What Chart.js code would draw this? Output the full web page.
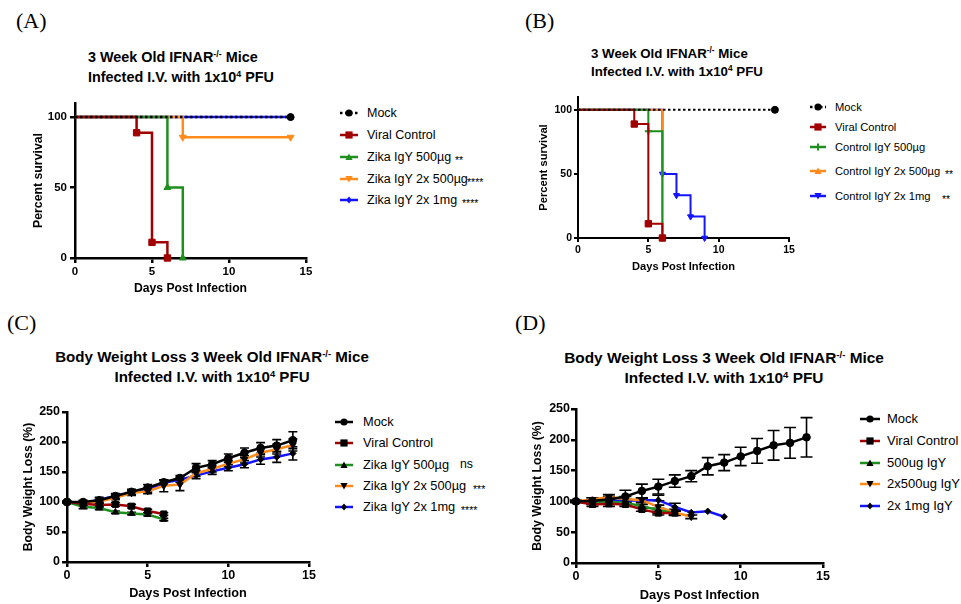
<!DOCTYPE html>
<html>
<head>
<meta charset="utf-8">
<script src="https://cdn.jsdelivr.net/npm/chart.js@4.4.1/dist/chart.umd.min.js"></script>
<style>
  body { margin: 0; background: #fff; }
  #fig { position: relative; width: 961px; height: 604px; overflow: hidden; color: #000;
         font-family: "Liberation Sans", Arial, Helvetica, sans-serif; }
  .plabel { position: absolute; font-family: "Liberation Serif", "Times New Roman", serif; font-size: 22px; line-height: 26px; }
  .title { position: absolute; font-weight: bold; white-space: nowrap; }
  .title sup { font-size: 62%; line-height: 0; vertical-align: 0.55em; }
  canvas { position: absolute; }
  .lg-mark { position: absolute; }
  .lg-text { position: absolute; white-space: nowrap; line-height: 20px; }
  .lg-sig { position: absolute; white-space: nowrap; line-height: 20px; }
</style>
</head>
<body>
<div id="fig">
  <div class="plabel" style="left:16px;top:8px">(A)</div>
  <div class="plabel" style="left:525px;top:8px">(B)</div>
  <div class="plabel" style="left:7px;top:310px">(C)</div>
  <div class="plabel" style="left:515px;top:310px">(D)</div>

  <div class="title" style="left:88px;top:47px;font-size:14.4px;line-height:20px">3 Week Old IFNAR<sup>-/-</sup> Mice<br>Infected I.V. with 1x10<sup>4</sup> PFU</div>
  <div class="title" style="left:591px;top:45px;font-size:13.3px;line-height:18px">3 Week Old IFNAR<sup>-/-</sup> Mice<br>Infected I.V. with 1x10<sup>4</sup> PFU</div>
  <div class="title" style="left:12px;width:400px;text-align:center;top:347px;font-size:15.1px;line-height:20px">Body Weight Loss 3 Week Old IFNAR<sup>-/-</sup> Mice<br>Infected I.V. with 1x10<sup>4</sup> PFU</div>
  <div class="title" style="left:524px;width:400px;text-align:center;top:348px;font-size:15.4px;line-height:20px">Body Weight Loss 3 Week Old IFNAR<sup>-/-</sup> Mice<br>Infected I.V. with 1x10<sup>4</sup> PFU</div>

  <canvas id="chartA" width="306" height="203" style="left:20px;top:93px"></canvas>
  <canvas id="chartB" width="281" height="187" style="left:528px;top:87px"></canvas>
  <canvas id="chartC" width="319" height="199" style="left:10px;top:402px"></canvas>
  <canvas id="chartD" width="323" height="204" style="left:520px;top:399px"></canvas>
</div>

<script>
// ---- data ----
const DAY_TICKS = [0, 5, 10, 15];
const SURV_TICKS = [0, 50, 100];
const WEIGHT_TICKS = [0, 50, 100, 150, 200, 250];

// (A) survival, Zika IgY
const A_LABELS = ['Mock', 'Viral Control', 'Zika IgY 500µg', 'Zika IgY 2x 500µg', 'Zika IgY 2x 1mg'];
const A_SIG = ['', '', '**', '****', '****'];
const A_MOCK_DAYS = [0, 14],        A_MOCK = [100, 100];
const A_VIRAL_DAYS = [0, 4, 5, 6],  A_VIRAL = [100, 88.9, 11.1, 0];
const A_Z500_DAYS = [0, 6, 7],      A_Z500 = [100, 50, 0];
const A_Z2X500_DAYS = [0, 7, 14],   A_Z2X500 = [100, 85.7, 85.7];
const A_Z2X1MG_DAYS = [0, 14],      A_Z2X1MG = [100, 100];

// (B) survival, control IgY
const B_LABELS = ['Mock', 'Viral Control', 'Control IgY 500µg', 'Control IgY 2x 500µg', 'Control IgY 2x 1mg'];
const B_SIG = ['', '', '', '**', '**'];
const B_MOCK_DAYS = [0, 14],          B_MOCK = [100, 100];
const B_VIRAL_DAYS = [0, 4, 5, 6],    B_VIRAL = [100, 88.9, 11.1, 0];
const B_C500_DAYS = [0, 5, 6],        B_C500 = [100, 83.3, 0];
const B_C2X500_DAYS = [0, 6],         B_C2X500 = [100, 0];
const B_C2X1MG_DAYS = [0, 6, 7, 8, 9], B_C2X1MG = [100, 50, 33.3, 16.7, 0];

// (C) body weight, Zika IgY
const WEIGHT_DAYS = [0, 1, 2, 3, 4, 5, 6, 7, 8, 9, 10, 11, 12, 13, 14];
const C_LABELS = ['Mock', 'Viral Control', 'Zika IgY 500µg', 'Zika IgY 2x 500µg', 'Zika IgY 2x 1mg'];
const C_SIG = ['', '', 'ns', '***', '****'];
const C_MOCK = [100, 100, 103, 110, 117, 124, 133, 140, 157, 163, 173, 182, 190, 194, 203];
const C_MOCK_ERR = [1, 3, 5, 4, 4, 5, 4, 4, 7, 6, 7, 8, 9, 10, 14];
const C_VIRAL = [100, 97, 95, 96, 93, 85, 80];
const C_VIRAL_ERR = [1, 3, 4, 3, 3, 3, 2];
const C_Z500 = [100, 92, 90, 83, 81, 79, 71];
const C_Z500_ERR = [1, 3, 3, 2, 2, 2, 2];
const C_Z2X500 = [100, 99, 101, 107, 115, 118, 127, 129, 148, 155, 164, 171, 182, 188, 195];
const C_Z2X500_ERR = [1, 3, 3, 3, 4, 4, 10, 10, 5, 5, 5, 6, 7, 8, 10];
const C_Z2X1MG = [100, 98, 104, 110, 116, 120, 132, 137, 144, 151, 157, 163, 171, 175, 181];
const C_Z2X1MG_ERR = [1, 3, 3, 3, 4, 4, 4, 4, 5, 5, 5, 6, 8, 9, 11];

// (D) body weight, control IgY
const D_LABELS = ['Mock', 'Viral Control', '500ug IgY', '2x500ug IgY', '2x 1mg IgY'];
const D_SIG = ['', '', '', '', ''];
const D_MOCK = [100, 101, 103, 108, 117, 124, 133, 141, 157, 163, 173, 182, 191, 195, 204];
const D_MOCK_ERR = [2, 5, 5, 10, 11, 12, 10, 9, 14, 13, 15, 20, 24, 25, 32];
const D_VIRAL = [100, 95, 96, 95, 87, 81, 81];
const D_VIRAL_ERR = [1, 3, 4, 3, 3, 3, 3];
const D_500 = [100, 98, 99, 98, 92, 86, 81];
const D_500_ERR = [1, 3, 3, 3, 3, 3, 3];
const D_2X500 = [100, 103, 107, 104, 102, 91, 82, 75];
const D_2X500_ERR = [1, 3, 4, 4, 4, 10, 5, 3];
const D_2X1MG = [100, 99, 101, 101, 102, 102, 91, 82, 84, 75];
const D_2X1MG_ERR = [1, 3, 4, 3, 3, 8, 6, 0, 0, 0];

// ---- styles ----
const FONT = '"Liberation Sans", Arial, Helvetica, sans-serif';
const BLACK = '#000000', RED = '#a00000', GREEN = '#1f8f1f', ORANGE = '#ff8c1a', BLUE = '#1414ff';

// shape name -> chart.js point style
const SHAPES = {
  circle: { pointStyle: 'circle', rot: 0 },
  square: { pointStyle: 'rect', rot: 0 },
  tri: { pointStyle: 'triangle', rot: 0 },
  triDown: { pointStyle: 'triangle', rot: 180 },
  diamond: { pointStyle: 'rectRot', rot: 0 },
  plus: { pointStyle: 'cross', rot: 0 }
};

function makeSet(label, days, vals, color, shape, opts) {
  const o = opts || {};
  const r = o.r || 4;
  const pc = o.pointColor || color;
  return {
    label: label,
    data: days.map((d, i) => ({ x: d, y: vals[i] })),
    borderColor: color,
    backgroundColor: pc,
    pointBackgroundColor: pc,
    pointBorderColor: pc,
    pointBorderWidth: shape === 'plus' ? 2 : 1,
    pointStyle: SHAPES[shape].pointStyle,
    pointRotation: SHAPES[shape].rot,
    pointRadius: o.skipFirst ? (ctx => ctx.dataIndex === 0 ? 0 : r) : r,
    borderWidth: o.lw || 2.5,
    borderDash: o.dotted ? [2.5, 2.5] : [],
    stepped: !!o.stepped,
    tension: 0,
    clip: false,
    errors: o.errors || null
  };
}

// draws error bars through the chart scales
const errorBars = {
  id: 'errorBars',
  beforeDatasetsDraw(chart, args, opts) {
    const { ctx, scales: { x, y } } = chart;
    const cap = opts.cap || 4;
    ctx.save();
    ctx.strokeStyle = '#000';
    ctx.lineWidth = 1.6;
    chart.data.datasets.forEach(ds => {
      if (!ds.errors) return;
      ds.data.forEach((p, i) => {
        const e = ds.errors[i];
        if (!e) return;
        const px = x.getPixelForValue(p.x);
        const top = y.getPixelForValue(p.y + e);
        const bot = y.getPixelForValue(p.y - e);
        ctx.beginPath();
        ctx.moveTo(px, top); ctx.lineTo(px, bot);
        ctx.moveTo(px - cap, top); ctx.lineTo(px + cap, top);
        ctx.moveTo(px - cap, bot); ctx.lineTo(px + cap, bot);
        ctx.stroke();
      });
    });
    ctx.restore();
  }
};

function buildChart(id, p) {
  const ctx = document.getElementById(id).getContext('2d');
  const axisGrid = { drawOnChartArea: false, drawTicks: true, tickLength: p.tickLen, color: '#000', lineWidth: p.axisW };
  const axisBorder = { display: true, color: '#000', width: p.axisW };
  return new Chart(ctx, {
    type: 'line',
    data: { datasets: p.datasets },
    plugins: [errorBars],
    options: {
      responsive: false,
      animation: false,
      layout: { padding: { top: 10, right: 20, bottom: 0, left: 0 } },
      plugins: {
        legend: { display: false },
        tooltip: { enabled: false },
        errorBars: { cap: p.cap }
      },
      scales: {
        x: {
          type: 'linear', min: 0, max: 15,
          afterBuildTicks: s => { s.ticks = DAY_TICKS.map(v => ({ value: v })); },
          afterFit: s => { s.height = p.xAxisH; },
          grid: axisGrid,
          border: axisBorder,
          ticks: { color: '#000', autoSkip: false, maxRotation: 0, padding: p.xTickPad,
                   font: { family: FONT, size: p.tickFont, weight: 'bold' } },
          title: { display: true, text: 'Days Post Infection', color: '#000', padding: { top: 0, bottom: 0 },
                   font: { family: FONT, size: p.xTitleFont, weight: 'bold' } }
        },
        y: {
          type: 'linear', min: 0, max: p.yMax,
          afterBuildTicks: s => { s.ticks = p.yTicks.map(v => ({ value: v })); },
          afterFit: s => { s.width = p.yAxisW; },
          grid: axisGrid,
          border: axisBorder,
          ticks: { color: '#000', padding: p.yTickPad,
                   font: { family: FONT, size: p.tickFont, weight: 'bold' } },
          title: { display: true, text: p.yTitle, color: '#000', padding: { top: p.yTitlePad, bottom: 0 },
                   font: { family: FONT, size: p.yTitleFont, weight: 'bold' } }
        }
      }
    }
  });
}

// ---- legends (html) ----
function markSvg(w, color, markColor, shape, dotted) {
  const h = 14, cy = 7, cx = w / 2;
  const dash = dotted ? ' stroke-dasharray="2.5 2.5"' : '';
  const mc = markColor;
  let m = '';
  const s = 3.6;
  if (shape === 'circle') m = `<circle cx="${cx}" cy="${cy}" r="${s}" fill="${mc}"/>`;
  else if (shape === 'square') m = `<rect x="${cx - s}" y="${cy - s}" width="${2 * s}" height="${2 * s}" fill="${mc}"/>`;
  else if (shape === 'tri') m = `<polygon points="${cx},${cy - s} ${cx - s},${cy + s * 0.8} ${cx + s},${cy + s * 0.8}" fill="${mc}"/>`;
  else if (shape === 'triDown') m = `<polygon points="${cx},${cy + s} ${cx - s},${cy - s * 0.8} ${cx + s},${cy - s * 0.8}" fill="${mc}"/>`;
  else if (shape === 'diamond') m = `<polygon points="${cx},${cy - s} ${cx + s * 0.8},${cy} ${cx},${cy + s} ${cx - s * 0.8},${cy}" fill="${mc}"/>`;
  else if (shape === 'plus') m = `<path d="M${cx - s} ${cy}H${cx + s}M${cx} ${cy - s}V${cy + s}" stroke="${mc}" stroke-width="2"/>`;
  return `<svg width="${w}" height="${h}"><line x1="0" y1="${cy}" x2="${w}" y2="${cy}" stroke="${color}" stroke-width="2.5"${dash}/>${m}</svg>`;
}

function drawLegend(L) {
  const fig = document.getElementById('fig');
  L.labels.forEach((label, i) => {
    const cy = L.rowY[i];
    const mk = document.createElement('div');
    mk.className = 'lg-mark';
    mk.style.left = L.lineX + 'px';
    mk.style.top = (cy - 7) + 'px';
    mk.innerHTML = markSvg(L.lineW, L.colors[i], L.markBlack ? BLACK : L.colors[i], L.shapes[i], L.dotted[i]);
    fig.appendChild(mk);

    const tx = document.createElement('div');
    tx.className = 'lg-text';
    tx.style.left = L.textX + 'px';
    tx.style.top = (cy - 10) + 'px';
    tx.style.fontSize = L.font + 'px';
    tx.textContent = label;
    fig.appendChild(tx);

    if (L.sig[i]) {
      const sg = document.createElement('div');
      sg.className = 'lg-sig';
      const isStar = L.sig[i].indexOf('*') >= 0;
      sg.style.left = L.sigX[i] + 'px';
      sg.style.top = (cy - 10 + (isStar ? 3 : -1)) + 'px';
      sg.style.fontSize = (isStar ? 10.5 : L.font - 0.5) + 'px';
      sg.textContent = L.sig[i];
      fig.appendChild(sg);
    }
  });
}

// ---- panels ----
buildChart('chartA', {
  yMax: 110, yTicks: SURV_TICKS, yTitle: 'Percent survival',
  yAxisW: 55, xAxisH: 38, tickLen: 5, axisW: 2.5, tickFont: 11.5, xTickPad: 2, yTickPad: 3,
  xTitleFont: 12.2, yTitleFont: 12.3, yTitlePad: 11, cap: 4,
  datasets: [
    makeSet(A_LABELS[0], A_MOCK_DAYS, A_MOCK, BLACK, 'circle', { stepped: true, dotted: true, skipFirst: true, r: 3.5 }),
    makeSet(A_LABELS[1], A_VIRAL_DAYS, A_VIRAL, RED, 'square', { stepped: true, skipFirst: true, r: 4.5 }),
    makeSet(A_LABELS[2], A_Z500_DAYS, A_Z500, GREEN, 'tri', { stepped: true, skipFirst: true, r: 4 }),
    makeSet(A_LABELS[3], A_Z2X500_DAYS, A_Z2X500, ORANGE, 'triDown', { stepped: true, skipFirst: true, r: 4 }),
    makeSet(A_LABELS[4], A_Z2X1MG_DAYS, A_Z2X1MG, BLUE, 'diamond', { stepped: true, skipFirst: true, r: 3.5 })
  ]
});

buildChart('chartB', {
  yMax: 110, yTicks: SURV_TICKS, yTitle: 'Percent survival',
  yAxisW: 50, xAxisH: 36, tickLen: 4, axisW: 2, tickFont: 10.5, xTickPad: 2, yTickPad: 2,
  xTitleFont: 11.1, yTitleFont: 11.2, yTitlePad: 9, cap: 4,
  datasets: [
    makeSet(B_LABELS[0], B_MOCK_DAYS, B_MOCK, BLACK, 'circle', { stepped: true, dotted: true, skipFirst: true, r: 3.5, lw: 2 }),
    makeSet(B_LABELS[1], B_VIRAL_DAYS, B_VIRAL, RED, 'square', { stepped: true, skipFirst: true, r: 4.5, lw: 2 }),
    makeSet(B_LABELS[2], B_C500_DAYS, B_C500, GREEN, 'plus', { stepped: true, skipFirst: true, r: 3.5, lw: 2 }),
    makeSet(B_LABELS[3], B_C2X500_DAYS, B_C2X500, ORANGE, 'tri', { stepped: true, skipFirst: true, r: 3.5, lw: 2 }),
    makeSet(B_LABELS[4], B_C2X1MG_DAYS, B_C2X1MG, BLUE, 'triDown', { stepped: true, skipFirst: true, r: 3.5, lw: 2 })
  ]
});

buildChart('chartC', {
  yMax: 250, yTicks: WEIGHT_TICKS, yTitle: 'Body Weight Loss (%)',
  yAxisW: 57, xAxisH: 39, tickLen: 5, axisW: 2.5, tickFont: 12.5, xTickPad: 1, yTickPad: 2,
  xTitleFont: 12.7, yTitleFont: 12.2, yTitlePad: 11, cap: 4.5,
  datasets: [
    makeSet(C_LABELS[0], WEIGHT_DAYS, C_MOCK, BLACK, 'circle', { r: 3.8, errors: C_MOCK_ERR }),
    makeSet(C_LABELS[1], WEIGHT_DAYS.slice(0, C_VIRAL.length), C_VIRAL, RED, 'square', { r: 4.3, pointColor: BLACK, errors: C_VIRAL_ERR }),
    makeSet(C_LABELS[2], WEIGHT_DAYS.slice(0, C_Z500.length), C_Z500, GREEN, 'tri', { r: 3.8, pointColor: BLACK, errors: C_Z500_ERR }),
    makeSet(C_LABELS[3], WEIGHT_DAYS, C_Z2X500, ORANGE, 'triDown', { r: 3.8, pointColor: BLACK, errors: C_Z2X500_ERR }),
    makeSet(C_LABELS[4], WEIGHT_DAYS, C_Z2X1MG, BLUE, 'diamond', { r: 3.2, pointColor: BLACK, errors: C_Z2X1MG_ERR })
  ]
});

buildChart('chartD', {
  yMax: 250, yTicks: WEIGHT_TICKS, yTitle: 'Body Weight Loss (%)',
  yAxisW: 56, xAxisH: 40, tickLen: 5, axisW: 2.5, tickFont: 12.5, xTickPad: 1, yTickPad: 1,
  xTitleFont: 12.9, yTitleFont: 12.3, yTitlePad: 10.6, cap: 6,
  datasets: [
    makeSet(D_LABELS[0], WEIGHT_DAYS, D_MOCK, BLACK, 'circle', { r: 3.8, errors: D_MOCK_ERR }),
    makeSet(D_LABELS[1], WEIGHT_DAYS.slice(0, D_VIRAL.length), D_VIRAL, RED, 'square', { r: 4.3, pointColor: BLACK, errors: D_VIRAL_ERR }),
    makeSet(D_LABELS[2], WEIGHT_DAYS.slice(0, D_500.length), D_500, GREEN, 'tri', { r: 3.8, pointColor: BLACK, errors: D_500_ERR }),
    makeSet(D_LABELS[3], WEIGHT_DAYS.slice(0, D_2X500.length), D_2X500, ORANGE, 'triDown', { r: 3.8, pointColor: BLACK, errors: D_2X500_ERR }),
    makeSet(D_LABELS[4], WEIGHT_DAYS.slice(0, D_2X1MG.length), D_2X1MG, BLUE, 'diamond', { r: 3.2, pointColor: BLACK, errors: D_2X1MG_ERR })
  ]
});

drawLegend({ labels: A_LABELS, sig: A_SIG, sigX: [0, 0, 455, 467, 462],
  colors: [BLACK, RED, GREEN, ORANGE, BLUE], shapes: ['circle', 'square', 'tri', 'triDown', 'diamond'],
  dotted: [true, false, false, false, false], lineX: 340, lineW: 18, textX: 367,
  rowY: [113, 135, 157, 179, 200], font: 12.5 });

drawLegend({ labels: B_LABELS, sig: B_SIG, sigX: [0, 0, 0, 945, 942],
  colors: [BLACK, RED, GREEN, ORANGE, BLUE], shapes: ['circle', 'square', 'plus', 'tri', 'triDown'],
  dotted: [true, false, false, false, false], lineX: 810, lineW: 16, textX: 835,
  rowY: [107, 127, 147, 171, 196], font: 11.2 });

drawLegend({ labels: C_LABELS, sig: C_SIG, sigX: [0, 0, 460, 473, 461], markBlack: true,
  colors: [BLACK, RED, GREEN, ORANGE, BLUE], shapes: ['circle', 'square', 'tri', 'triDown', 'diamond'],
  dotted: [false, false, false, false, false], lineX: 335, lineW: 18, textX: 363,
  rowY: [422, 443, 465, 486, 507], font: 12.8 });

drawLegend({ labels: D_LABELS, sig: D_SIG, sigX: [0, 0, 0, 0, 0], markBlack: true,
  colors: [BLACK, RED, GREEN, ORANGE, BLUE], shapes: ['circle', 'square', 'tri', 'triDown', 'diamond'],
  dotted: [false, false, false, false, false], lineX: 860, lineW: 20, textX: 887,
  rowY: [419, 441, 463, 484, 506], font: 13 });
</script>
</body>
</html>
